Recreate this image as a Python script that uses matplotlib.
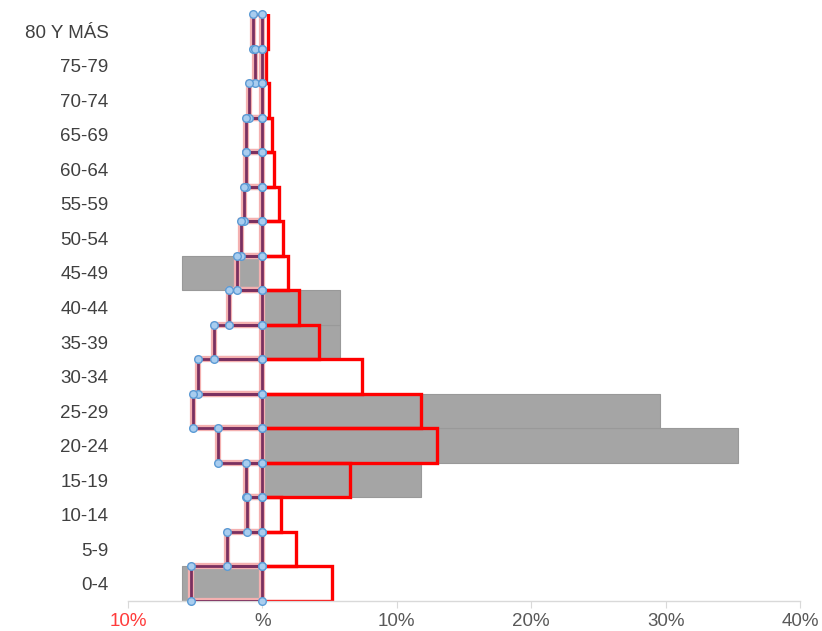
import matplotlib.pyplot as plt
import numpy as np

ages = ["0-4", "5-9", "10-14", "15-19", "20-24", "25-29", "30-34", "35-39",
        "40-44", "45-49", "50-54", "55-59", "60-64", "65-69", "70-74",
        "75-79", "80 Y MÁS"]
# right side (red outline), left side (purple outline), grey comparison bars
right_pct = [5.2, 2.5, 1.35, 6.55, 13.0, 11.8, 7.4, 4.2, 2.7, 1.9,
             1.55, 1.25, 0.85, 0.75, 0.5, 0.3, 0.45]
left_pct = [5.3, 2.6, 1.15, 1.2, 3.3, 5.2, 4.8, 3.6, 2.5, 1.9,
            1.6, 1.4, 1.25, 1.2, 1.0, 0.55, 0.7]
grey_pct = [-6.0, 0, 0, 11.8, 35.4, 29.6, 0, 5.8, 5.8, -6.0,
            0, 0, 0, 0, 0, 0, 0]
xtick_vals = [-10, 0, 10, 20, 30, 40]
xtick_labels = ["10%", "%", "10%", "20%", "30%", "40%"]

plt.rcParams["font.family"] = ["Liberation Sans", "DejaVu Sans"]

fig = plt.figure(figsize=(8.22, 6.31), dpi=100)
ax = fig.add_axes([128 / 822, 30 / 631, 672 / 822, 587 / 631])

y = np.arange(len(ages))
left = -np.array(left_pct)

ax.barh(y, grey_pct, height=1.0, color="#a5a5a5", edgecolor="#999999",
        linewidth=0.8, zorder=1)
ax.barh(y, right_pct, height=1.0, fill=False, edgecolor="#ff0000",
        linewidth=2.4, zorder=2)
ax.barh(y, left, height=1.0, fill=False, edgecolor="#f4b0b0",
        linewidth=4.5, zorder=3)
ax.barh(y, left, height=1.0, fill=False, edgecolor="#7a3060",
        linewidth=2.0, zorder=4)

# corner markers of the left outline
cx = np.concatenate([left, left, np.zeros(len(y)), np.zeros(len(y))])
cy = np.concatenate([y - 0.5, y + 0.5, y - 0.5, y + 0.5])
ax.plot(cx, cy, "o", linestyle="none", markersize=5.5,
        markerfacecolor="#a9cdef", markeredgecolor="#5b9bd5",
        markeredgewidth=1.0, zorder=5, clip_on=False)

ax.set_xlim(-10, 40)
ax.set_ylim(-0.5, len(ages) - 0.5)
ax.set_yticks(y)
ax.set_yticklabels(ages, fontsize=13.5, color="#404040")
ax.set_xticks(xtick_vals)
ax.set_xticklabels(xtick_labels, fontsize=13.5, color="#595959")
ax.get_xticklabels()[0].set_color("#ff3b3b")

for side in ["left", "right", "top"]:
    ax.spines[side].set_visible(False)
ax.spines["bottom"].set_color("#d9d9d9")
ax.spines["bottom"].set_linewidth(1.0)
ax.tick_params(axis="y", length=0, pad=14)
ax.tick_params(axis="x", length=5, color="#d9d9d9", pad=4)

fig.savefig("out.png", dpi=100)
plt.close(fig)
